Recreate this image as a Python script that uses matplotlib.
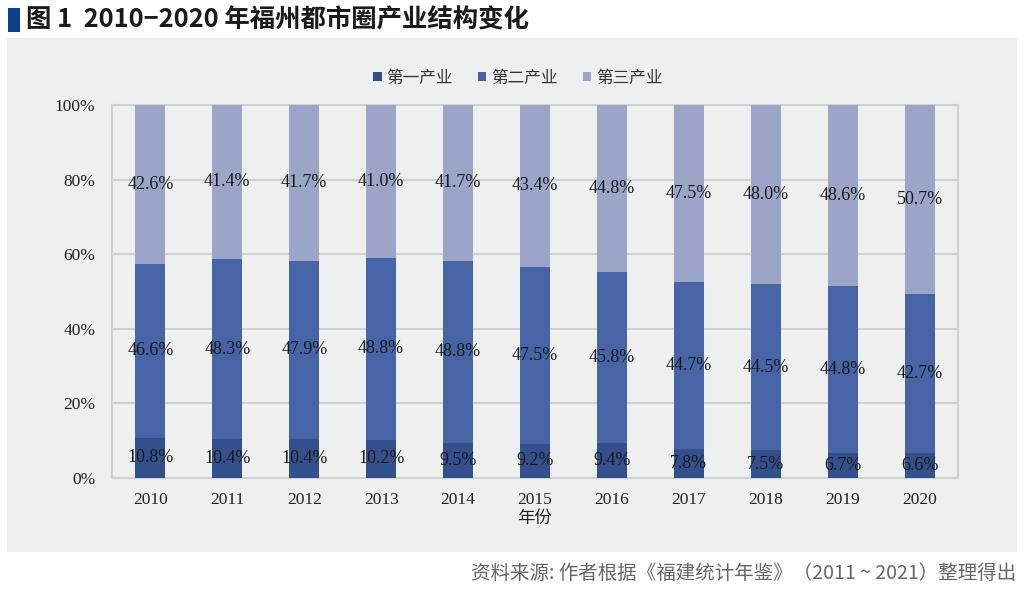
import matplotlib
matplotlib.use("Agg")
import matplotlib.pyplot as plt
from matplotlib.patches import Rectangle
import numpy as np

years = ["2010", "2011", "2012", "2013", "2014", "2015", "2016", "2017", "2018", "2019", "2020"]
primary = [10.8, 10.4, 10.4, 10.2, 9.5, 9.2, 9.4, 7.8, 7.5, 6.7, 6.6]
secondary = [46.6, 48.3, 47.9, 48.8, 48.8, 47.5, 45.8, 44.7, 44.5, 44.8, 42.7]
tertiary = [42.6, 41.4, 41.7, 41.0, 41.7, 43.4, 44.8, 47.5, 48.0, 48.6, 50.7]
series_names = ["第一产业", "第二产业", "第三产业"]
colors = ["#34508c", "#4764a6", "#9ba5c7"]

cjk = ["Noto Sans CJK SC", "DejaVu Sans"]
serif = ["Liberation Serif", "Noto Sans CJK SC"]

fig = plt.figure(figsize=(10.24, 5.89), dpi=100)
fig.patch.set_facecolor("white")

# panel background
panel = Rectangle((7/1024, 1-552/589), 1010/1024, 514/589,
                  transform=fig.transFigure, facecolor="#eeefef",
                  edgecolor="none", zorder=-10)
fig.add_artist(panel)
# title marker
fig.add_artist(Rectangle((8/1024, 1-32/589), 12/1024, 24/589,
                         transform=fig.transFigure, facecolor="#0d3f8f",
                         edgecolor="none", zorder=1))
fig.text(26/1024, 1-20/589, "图 1  2010−2020 年福州都市圈产业结构变化",
         family=cjk, fontsize=18.3, fontweight="bold", color="#1a1a1a",
         va="center", ha="left")
fig.text(1016/1024, 1-573/589,
         "资料来源: 作者根据《福建统计年鉴》（2011 ~ 2021）整理得出",
         family=cjk, fontsize=14, color="#666666", va="center", ha="right")

ax = fig.add_axes([112/1024, 1-478/589, 846/1024, 373/589])
ax.set_facecolor("#eeefef")
x = np.arange(len(years))
w = 0.39
data = [primary, secondary, tertiary]
bottom = np.zeros(len(years))
for vals, col, name in zip(data, colors, series_names):
    vals = np.array(vals)
    ax.bar(x, vals, w, bottom=bottom, color=col, label=name, zorder=3)
    for xi, b, v in zip(x, bottom, vals):
        ax.text(xi, b + v / 2, f"{v:.1f}%", ha="center", va="center",
                family=serif, fontsize=13, color="#1a1a1a", zorder=4)
    bottom = bottom + vals

ax.set_xlim(-0.5, len(years) - 0.5)
ax.set_ylim(0, 100)
ax.set_yticks([0, 20, 40, 60, 80, 100])
ax.set_yticklabels([f"{v}%" for v in [0, 20, 40, 60, 80, 100]])
ax.set_xticks(x)
ax.set_xticklabels(years)
for lab in ax.get_xticklabels() + ax.get_yticklabels():
    lab.set_family(serif)
    lab.set_fontsize(12.5)
    lab.set_color("#222222")
ax.tick_params(length=0, pad=10)
ax.tick_params(axis="y", pad=12)
ax.grid(axis="y", color="#d0d0d0", linewidth=1.5, zorder=0)
ax.set_axisbelow(True)
for s in ax.spines.values():
    s.set_color("#d0d0d0")
    s.set_linewidth(1.5)
ax.set_xlabel("年份", family=cjk, fontsize=12.5, color="#222222", labelpad=1)

leg = ax.legend(loc="center", bbox_to_anchor=(0.48, (478-78)/373), ncol=3,
                frameon=False, prop={"family": cjk, "size": 12},
                handlelength=0.5, handleheight=0.5, handletextpad=0.3,
                columnspacing=1.5)
for t in leg.get_texts():
    t.set_color("#333333")

fig.savefig("out.png", dpi=100, facecolor="white")
